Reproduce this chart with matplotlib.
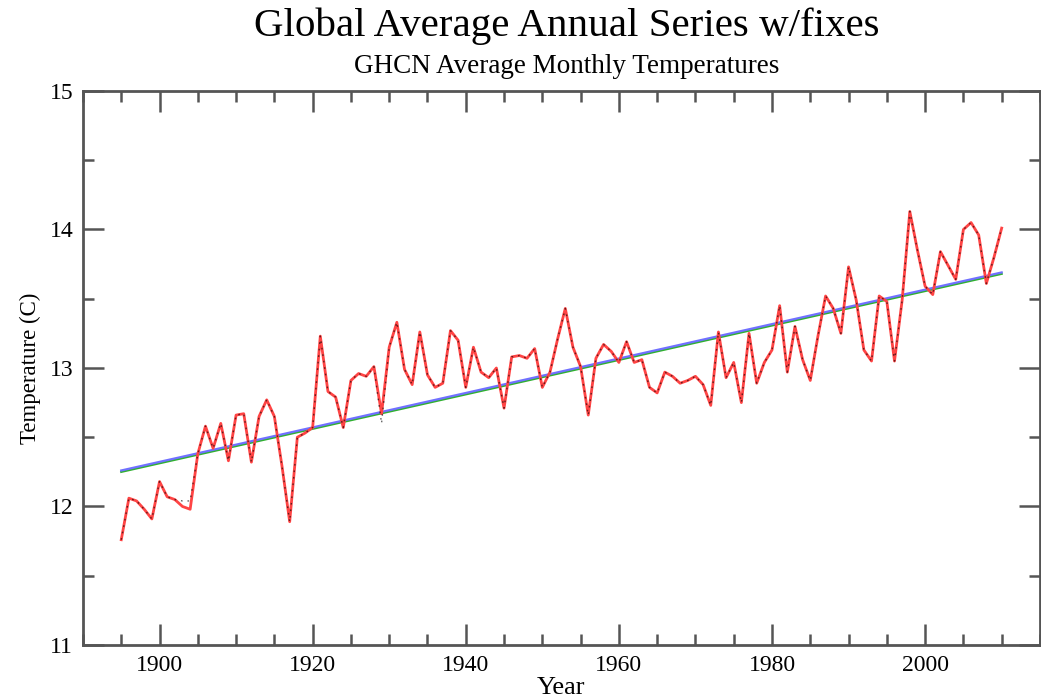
import matplotlib
matplotlib.use("Agg")
import matplotlib.pyplot as plt
from matplotlib.ticker import MultipleLocator

plt.rcParams["font.family"] = ["Liberation Serif", "DejaVu Serif"]

# Annual series, 1895-2010 (red line)
years = list(range(1895, 2011))
temps = [
    11.76, 12.06, 12.04, 11.98, 11.91, 12.18, 12.07, 12.05, 12.00, 11.98,
    12.38, 12.58, 12.42, 12.60, 12.33, 12.66, 12.67, 12.32, 12.65, 12.77,
    12.65, 12.29, 11.89, 12.50, 12.53, 12.57, 13.23, 12.83, 12.79, 12.57,
    12.91, 12.96, 12.94, 13.01, 12.67, 13.15, 13.33, 12.99, 12.88, 13.26,
    12.95, 12.86, 12.89, 13.27, 13.20, 12.86, 13.15, 12.97, 12.93, 13.00,
    12.71, 13.08, 13.09, 13.07, 13.14, 12.86, 12.97, 13.21, 13.43, 13.15,
    13.01, 12.66, 13.07, 13.17, 13.12, 13.04, 13.19, 13.04, 13.06, 12.86,
    12.82, 12.97, 12.94, 12.89, 12.91, 12.94, 12.88, 12.73, 13.26, 12.93,
    13.04, 12.75, 13.25, 12.89, 13.04, 13.13, 13.45, 12.97, 13.30, 13.06,
    12.91, 13.23, 13.52, 13.43, 13.25, 13.73, 13.49, 13.13, 13.05, 13.52,
    13.48, 13.05, 13.49, 14.13, 13.85, 13.59, 13.53, 13.84, 13.74, 13.64,
    14.00, 14.05, 13.96, 13.61, 13.80, 14.01,
]

# Years where the dotted black series departs from the red one
black_diffs = {1902: 12.05, 1903: 12.04, 1904: 12.04, 1929: 12.60}
black_temps = [black_diffs.get(y, t) for y, t in zip(years, temps)]

# Trend lines (end points)
trend_years = [1895, 2010]
trend_green = [12.25, 13.68]
trend_blue = [12.26, 13.69]

fig = plt.figure(figsize=(10.41, 7.0), dpi=100)
ax = fig.add_axes([0.0797, 0.0786, 0.9193, 0.7914])

ax.plot(trend_years, trend_green, color="#30b030", linewidth=1.6)
ax.plot(trend_years, trend_blue, color="#7070ff", linewidth=1.6)
ax.plot(years, temps, color="#ff4444", linewidth=2.0)
ax.plot(years, black_temps, color="black", linewidth=1.0,
        linestyle=(0, (1.2, 3.5)), alpha=0.6)

ax.set_xlim(1890, 2015)
ax.set_ylim(11, 15)
ax.xaxis.set_major_locator(MultipleLocator(20))
ax.xaxis.set_minor_locator(MultipleLocator(5))
ax.yaxis.set_major_locator(MultipleLocator(1))
ax.yaxis.set_minor_locator(MultipleLocator(0.5))

edge = "#555555"
for s in ax.spines.values():
    s.set_color(edge)
    s.set_linewidth(2)
ax.tick_params(which="both", direction="in", top=True, right=True, color=edge,
               width=1.8, labelsize=17, pad=7)
ax.tick_params(which="major", length=15)
ax.tick_params(which="minor", length=8)

ax.set_xlabel("Year", fontsize=19, labelpad=1)
ax.set_ylabel("Temperature (C)", fontsize=16.5, labelpad=6)

fig.text(0.544, 0.962, "Global Average Annual Series w/fixes", ha="center", va="center", fontsize=29.5)
fig.text(0.544, 0.905, "GHCN Average Monthly Temperatures", ha="center", va="center", fontsize=19.5)

fig.savefig("out.png", dpi=100)
